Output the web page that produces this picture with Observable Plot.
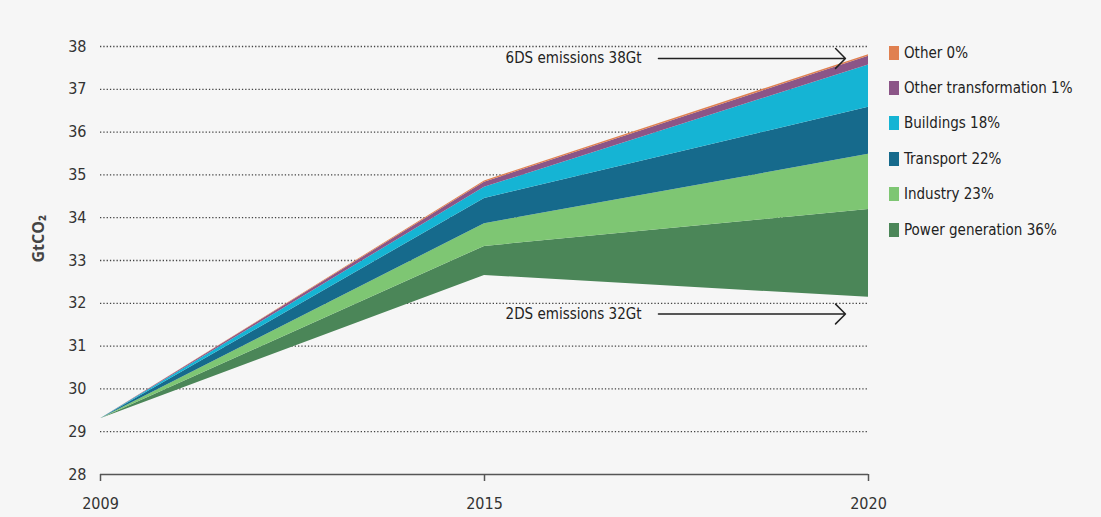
<!DOCTYPE html>
<html>
<head>
<meta charset="utf-8">
<script src="https://cdn.jsdelivr.net/npm/d3@7"></script>
<script src="https://cdn.jsdelivr.net/npm/@observablehq/plot@0.6"></script>
<style>
  html, body { margin: 0; padding: 0; background: #f6f6f6; }
  #wrap { position: relative; width: 1101px; height: 517px; overflow: hidden; }
  #legend { position: absolute; left: 889px; top: 35px; font-family: "Liberation Sans Narrow", "DejaVu Sans Condensed", "Open Sans", sans-serif; font-size: 15px; color: #222; }
  .item { height: 35.4px; display: flex; align-items: center; white-space: nowrap; }
  .sw { width: 10px; height: 14px; margin-right: 5px; flex: none; }
</style>
</head>
<body>
<div id="wrap"><div id="legend"></div></div>
<script>
// ---- data ----
const years = ["2009", "2015", "2020"];
const yTicks = [28, 29, 30, 31, 32, 33, 34, 35, 36, 37, 38];
const gridValues = [29, 30, 31, 32, 33, 34, 35, 36, 37, 38];
// 2DS emissions (bottom of the wedge), GtCO2
const base2DS = [29.3, 32.65, 32.14];
// emission reductions per sector stacked above the 2DS line (GtCO2)
const powerGeneration = [0, 0.68, 2.05];
const industry = [0, 0.53, 1.29];
const transport = [0, 0.59, 1.10];
const buildings = [0, 0.26, 0.99];
const otherTransformation = [0, 0.12, 0.20];
const other = [0, 0.03, 0.04];
const sectors = ["Power generation", "Industry", "Transport", "Buildings", "Other transformation", "Other"];
const shares = ["36%", "23%", "22%", "18%", "1%", "0%"];
const colors = ["#4b8658", "#7ec673", "#166a8c", "#15b4d4", "#8b5587", "#e08050"];
const annotationLabels = ["6DS emissions 38Gt", "2DS emissions 32Gt"];
const annotationValues = [37.72, 31.75];

// ---- build stacked table ----
const seriesValues = [powerGeneration, industry, transport, buildings, otherTransformation, other];
const rows = [];
years.forEach((yr, i) => {
  let acc = base2DS[i];
  seriesValues.forEach((vals, s) => {
    rows.push({i, sector: sectors[s], y1: acc, y2: acc + vals[i]});
    acc += vals[i];
  });
});
const annotations = annotationLabels.map((label, k) => ({label, v: annotationValues[k]}));

const font = '"Liberation Sans Narrow", "DejaVu Sans Condensed", "Open Sans", sans-serif';

const chart = Plot.plot({
  width: 1101,
  height: 517,
  marginLeft: 100,
  marginRight: 233,
  marginTop: 46,
  marginBottom: 43,
  style: {background: "#f6f6f6", fontFamily: font, fontSize: "16px", color: "#333"},
  x: {type: "linear", domain: [0, years.length - 1], label: null},
  y: {domain: [28, 38], label: null},
  color: {domain: sectors, range: colors},
  marks: [
    Plot.ruleY(gridValues, {y: d => d, x1: 0, x2: years.length - 1, stroke: "#444", strokeWidth: 1.3, strokeDasharray: "1.3,2"}),
    Plot.areaY(rows, {x: "i", y1: "y1", y2: "y2", z: "sector", fill: "sector", fillOpacity: 1, curve: "linear"}),
    Plot.ruleY([28], {x1: 0, x2: years.length - 1, stroke: "#555", strokeWidth: 1.5}),
    Plot.axisX({ticks: years.map((d, i) => i), tickFormat: i => years[i], tickSize: 7, tickPadding: 16, stroke: "#555", strokeWidth: 1.5, fontSize: 16, fill: "#333", label: null}),
    Plot.axisY({ticks: yTicks, tickSize: 0, tickPadding: 14, fontSize: 16, fill: "#333", label: null}),
    Plot.text(["GtCO₂"], {frameAnchor: "left", dx: -62, dy: 2, rotate: -90, fontSize: 16, fontWeight: "bold", fill: "#444", fontFamily: "Open Sans, sans-serif"}),
    Plot.text(annotations, {x: 1.055, y: "v", text: "label", textAnchor: "start", fill: "#222", fontSize: 15}),
    Plot.arrow(annotations, {x1: 1.453, x2: 1.94, y1: "v", y2: "v", stroke: "#222", strokeWidth: 1.5, headAngle: 90, headLength: 14, bend: 0})
  ]
});
document.getElementById("wrap").prepend(chart);

// ---- legend (top to bottom) ----
const legend = document.getElementById("legend");
sectors.map((s, k) => k).reverse().forEach(k => {
  const row = document.createElement("div");
  row.className = "item";
  const sw = document.createElement("span");
  sw.className = "sw";
  sw.style.background = colors[k];
  const tx = document.createElement("span");
  tx.textContent = sectors[k] + " " + shares[k];
  row.append(sw, tx);
  legend.append(row);
});
</script>
</body>
</html>
